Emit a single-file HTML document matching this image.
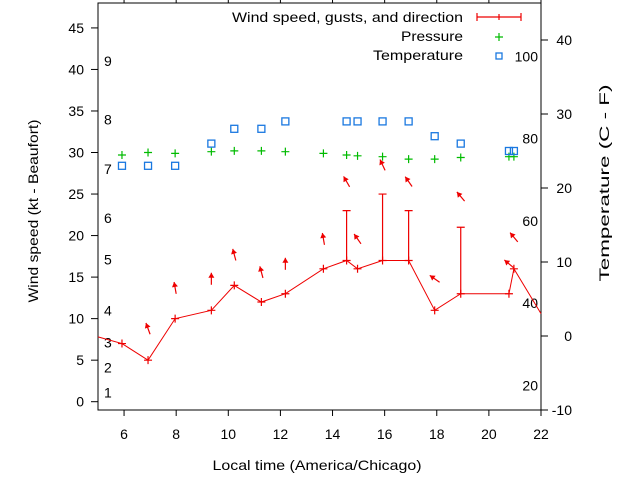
<!DOCTYPE html>
<html><head><meta charset="utf-8"><style>
body{margin:0;background:#fff}
svg{font-family:"Liberation Sans",sans-serif;font-size:14px}
</style></head><body>
<svg id="chart" width="640" height="480" viewBox="0 0 640 480" xmlns="http://www.w3.org/2000/svg"></svg>
<script>
const times=[5.92,6.92,7.96,9.35,10.23,11.27,12.19,13.65,14.54,14.96,15.92,16.92,17.92,18.92,20.77,20.96];
const wind=[7,5,10,11,14,12,13,16,17,16,17,17,11,13,13,16];
const gust=[null,null,null,null,null,null,null,null,23,null,25,23,null,21,null,null];
const pressure=[29.7,30,29.9,30.1,30.2,30.2,30.1,29.9,29.7,29.6,29.5,29.2,29.2,29.4,29.5,29.5];
const tempC=[23,23,23,26,28,28,29,null,29,29,29,29,27,26,25,25];
const tempTimes=[5.92,6.92,7.96,9.35,10.23,11.27,12.19,13.65,14.54,14.96,15.92,16.92,17.92,18.92,20.77,20.96];
const arrowTimes=[6.92,7.96,9.35,10.23,11.27,12.19,13.65,14.54,14.96,15.92,16.92,17.92,18.92,20.77,20.96];
const arrowLevel=[8.8,13.7,14.8,17.7,15.6,16.6,19.6,26.5,19.6,28.5,26.5,14.8,24.7,16.6,19.8];
const arrowDir=[160,170,180,165,165,180,170,150,145,155,145,125,140,130,140];
const xTicks=[6,8,10,12,14,16,18,20,22];
const yTicks=[0,5,10,15,20,25,30,35,40,45];
const y2Ticks=[-10,0,10,20,30,40];
const beaufortLabels=["1","2","3","4","5","6","7","8","9"];
const beaufortKt=[1.1,4.1,7.1,11,17.1,22.1,28,34,41];
const fLabels=[20,40,60,80,100];

const L=98,R=541,T=3,B=410;
const X=h=>L+(h-5)*(R-L)/17;
const Y=v=>B-(v+1)*(B-T)/49;
const Y2=c=>B-(c+10)*(B-T)/55;
const svg=document.getElementById('chart');
const NS='http://www.w3.org/2000/svg';
function el(tag,attrs,parent){const e=document.createElementNS(NS,tag);for(const k in attrs)e.setAttribute(k,attrs[k]);(parent||svg).appendChild(e);return e;}

let frame=el('rect',{x:L,y:T,width:R-L,height:B-T,fill:'none',stroke:'#000','stroke-width':1});



xTicks.forEach(t=>{
  const x=X(t);
  el('line',{x1:x,y1:B,x2:x,y2:B+6,stroke:'#000'});
  el('line',{x1:x,y1:T,x2:x,y2:T-6,stroke:'#000'});
  const tx=el('text',{x:x,y:B+29,'text-anchor':'middle'});tx.textContent=t;
  
  
});
yTicks.forEach(t=>{
  const y=Y(t);
  el('line',{x1:L,y1:y,x2:L-7,y2:y,stroke:'#000'});
  const tx=el('text',{x:84,y:y+5,'text-anchor':'end'});tx.textContent=t;
  
  
});
y2Ticks.forEach(t=>{
  const y=Y2(t);
  el('line',{x1:R,y1:y,x2:R+7,y2:y,stroke:'#000'});
  const tx=el('text',{x:572,y:y+5,'text-anchor':'end'});tx.textContent=t;
  
  
});
beaufortLabels.forEach((s,i)=>{
  const tx=el('text',{x:104,y:Y(beaufortKt[i])+5});tx.textContent=s;
  
  
});
fLabels.forEach(f=>{
  const tx=el('text',{x:538,y:Y2((f-32)*5/9)+5,'text-anchor':'end'});tx.textContent=f;
  
  
});

let pts=[[L,Y(7.8)]];
times.forEach((t,i)=>pts.push([X(t),Y(wind[i])]));
pts.push([R,Y(10.6)]);
let wl=el('polyline',{points:pts.map(p=>p.join(',')).join(' '),fill:'none',stroke:'#e00','stroke-width':1});


times.forEach((t,i)=>{
  const x=X(t),y=Y(wind[i]);
  const g=el('path',{d:`M${x-4},${y}h8M${x},${y-4}v8`,stroke:'#e00','stroke-width':1.2});
  
  
  if(gust[i]!=null){
    const gy=Y(gust[i]);
    const b=el('path',{d:`M${x},${y}V${gy}M${x-4},${gy}h8`,stroke:'#e00','stroke-width':1.2,fill:'none'});
    
    
  }
});
pressure.forEach((p,i)=>{
  const x=X(times[i]),y=Y(p);
  const g=el('path',{d:`M${x-4},${y}h8M${x},${y-4}v8`,stroke:'#0b0','stroke-width':1.2});
  
  
});
tempC.forEach((c,i)=>{
  if(c==null)return;
  const r=el('rect',{x:X(tempTimes[i])-3.5,y:Y2(c)-3.5,width:7,height:7,fill:'none',stroke:'#1a78e0','stroke-width':1.3});
  
  
});
arrowTimes.forEach((t,i)=>{
  const cx=X(t),cy=Y(arrowLevel[i]);
  const a=(arrowDir[i])*Math.PI/180;
  const dx=Math.sin(a)*6,dy=Math.cos(a)*6;
  const hx=cx-dx,hy=cy+dy,tx=cx+dx,ty=cy-dy;
  const ux=(hx-tx)/12,uy=(hy-ty)/12;
  const g=el('g',{});
  
  
  el('line',{x1:tx,y1:ty,x2:hx,y2:hy,stroke:'#e00','stroke-width':1.2},g);
  const px=-uy,py=ux;
  el('polygon',{points:`${hx},${hy} ${hx-ux*5+px*3},${hy-uy*5+py*3} ${hx-ux*5-px*3},${hy-uy*5-py*3}`,fill:'#e00'},g);
});

function txt(s,x,y,anchor,name,len,rot){const t=el('text',{x:x,y:y,'text-anchor':anchor});if(rot)t.setAttribute('transform',rot);
  if(len){t.setAttribute('textLength',len);t.setAttribute('lengthAdjust','spacingAndGlyphs');}
  t.textContent=s;
  
  return t;}
txt('Wind speed, gusts, and direction',463,22,'end','legend-wind-label',231);
let lw=el('path',{d:'M477,17H521M477,13v8M521,13v8M499,14v6',stroke:'#e00','stroke-width':1.2,fill:'none'});


txt('Pressure',463,41,'end','legend-pressure-label',62);
let lp=el('path',{d:'M495,37h8M499,33v8',stroke:'#0b0','stroke-width':1.2});


txt('Temperature',463,60,'end','legend-temperature-label',90);
let lt=el('rect',{x:496,y:53,width:6,height:6,fill:'none',stroke:'#1a78e0','stroke-width':1.3});



txt('Local time (America/Chicago)',317,470,'middle','x-axis-title',209);
txt('Wind speed (kt - Beaufort)',38,211,'middle','y-axis-title',183,'rotate(-90 38 211)');
txt('Temperature (C - F)',609,183,'middle','y2-axis-title',197,'rotate(-90 609 183)');
</script>
</body></html>
